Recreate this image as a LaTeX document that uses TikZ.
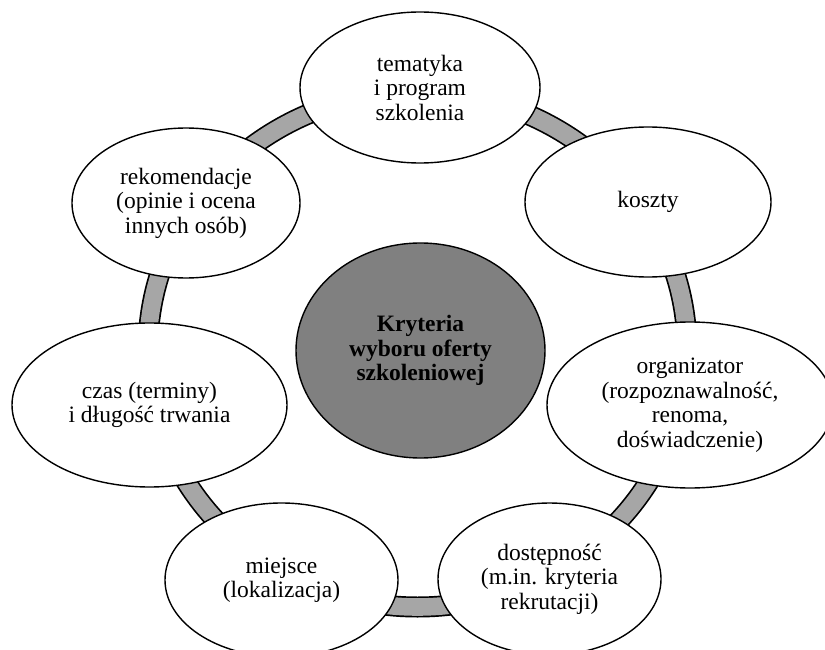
\documentclass[tikz,border=0pt]{standalone}
\usepackage{fontspec}
\setmainfont{Liberation Serif}
\usetikzlibrary{shapes.geometric}
\definecolor{ringgray}{HTML}{A6A6A6}
\definecolor{hubgray}{HTML}{808080}
\begin{document}
\begin{tikzpicture}[x=1pt,y=-1pt,
  bubble/.style={ellipse, draw=black, line width=1.4pt, fill=white, inner sep=0pt, align=center,
    font=\fontsize{23.5}{24.5}\selectfont},
  hub/.style={ellipse, draw=black, line width=1.4pt, fill=hubgray, inner sep=0pt, align=center,
    font=\fontsize{23.5}{24.5}\selectfont\bfseries},
  ringout/.style={line width=21pt, draw=black},
  ringin/.style={line width=17.6pt, draw=ringgray}]
\clip (0,0) rectangle (825,650);
\fill[white] (0,0) rectangle (825,650);
\coordinate (rc) at (417.5,349.5);
\draw[ringout] (rc) ellipse [x radius=269.5pt, y radius=257.5pt];
\draw[ringin] (rc) ellipse [x radius=269.5pt, y radius=257.5pt];
\node[bubble, minimum width=240pt, minimum height=151pt] (topic) at (420,87.5) {tematyka\\i program\\szkolenia};
\node[bubble, minimum width=246pt, minimum height=150pt] (cost) at (648,202) {koszty};
\node[bubble, minimum width=286pt, minimum height=166pt] (org) at (690,405) {organizator\\(rozpoznawalność,\\renoma,\\doświadczenie)};
\node[bubble, minimum width=223pt, minimum height=152pt] (access) at (549.5,579) {dostępność\\(m.in. kryteria\\rekrutacji)};
\node[bubble, minimum width=233pt, minimum height=154pt] (place) at (281.5,580) {miejsce\\(lokalizacja)};
\node[bubble, minimum width=275pt, minimum height=164pt] (time) at (149.5,405) {czas (terminy)\\i długość trwania};
\node[bubble, minimum width=228pt, minimum height=150pt] (recom) at (186,203) {rekomendacje\\(opinie i ocena\\innych osób)};
\node[hub, minimum width=249pt, minimum height=215pt] (hub) at (420.5,350.5) {Kryteria\\wyboru oferty\\szkoleniowej};
\end{tikzpicture}
\end{document}
